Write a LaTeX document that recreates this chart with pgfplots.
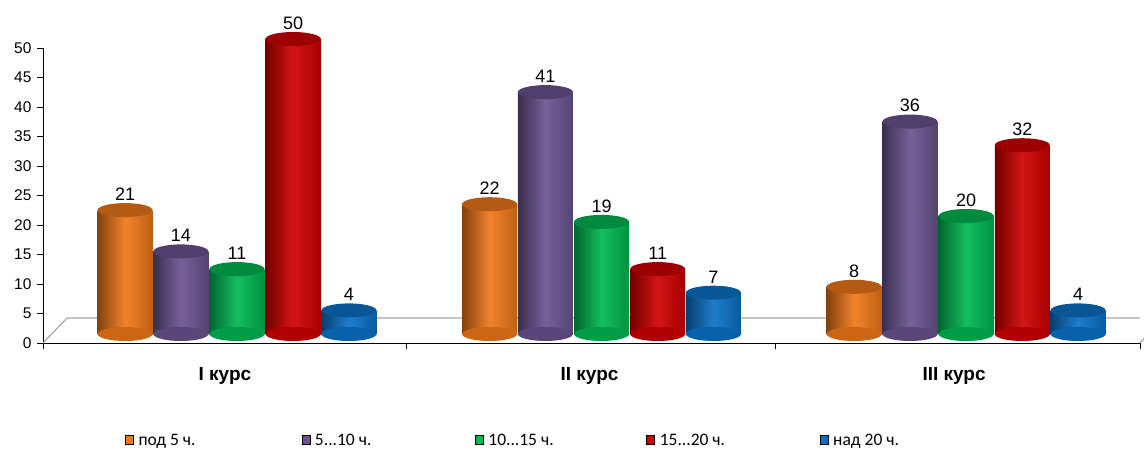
\documentclass[border=0pt]{standalone}
\usepackage{fontspec}
\setmainfont{Liberation Sans}
\newfontfamily\legfont{Carlito}
\usepackage{pgfplots}
\pgfplotsset{compat=1.18}
\definecolor{cO}{HTML}{F07818}
\definecolor{cP}{HTML}{6A5490}
\definecolor{cG}{HTML}{00B852}
\definecolor{cR}{HTML}{D00000}
\definecolor{cB}{HTML}{0A72C8}
\pgfdeclareplotmark{cyl}{\pgfpathellipse{\pgfpointorigin}{\pgfqpoint{27.5pt}{0pt}}{\pgfqpoint{0pt}{7pt}}\pgfusepathqfill}
\pgfplotsset{
  cylbar/.style={ybar, bar width=55pt, bar shift=0pt, draw=none, yshift=9pt,
    left color=#1!55!black, right color=#1!80!black, middle color=#1!92!white,
    forget plot},
  cyltop/.style={only marks, mark=cyl, yshift=9pt, mark options={fill=#1!75!black, draw=none}, forget plot,
    nodes near coords, every node near coord/.append style={anchor=south, yshift=6pt, font=\fontsize{18}{21}\selectfont, text=black}},
  cylbot/.style={only marks, mark=cyl, yshift=9pt, mark options={fill=#1!85!black, draw=none}, forget plot},
}
\newcommand\cyl[3]{%
  \addplot[cylbot=#1] coordinates {(#2,0)};
  \addplot[cylbar=#1] coordinates {(#2,#3)};
  \addplot[cyltop=#1] coordinates {(#2,#3)};
}
\begin{document}
\begin{tikzpicture}
\path[use as bounding box] (0,0) rectangle (1144pt,453pt);
\begin{axis}[
  at={(43pt,110pt)}, anchor=south west,
  scale only axis, width=1097pt, height=295pt,
  xmin=-0.532, xmax=2.477, ymin=0, ymax=50,
  axis x line*=bottom, axis y line*=left,
  axis line style={black, line width=0.8pt},
  ytick={0,5,...,50},
  xtick={-0.532,0.466,1.476,2.477}, xticklabels={},
  extra x ticks={-0.033,0.967,1.967},
  extra x tick labels={\textbf{I курс},\textbf{II курс},\textbf{III курс}},
  extra x tick style={major tick length=0pt, tick label style={yshift=-21pt, font=\fontsize{19}{22}\selectfont}},
  tick align=outside, major tick length=6pt,
  tick style={black, line width=0.8pt},
  yticklabel style={font=\fontsize{15.5}{18}\selectfont, xshift=-2pt},
  /pgf/number format/assume math mode=true,
  clip=false,
  legend columns=5,
  legend style={at={(0.072,-0.33)}, anchor=west, draw=none, fill=none,
    font=\legfont\fontsize{17.5}{20}\selectfont,
    /tikz/every odd column/.append style={column sep=3pt},
    /tikz/every even column/.append style={column sep=0pt}},
  legend cell align=left,
  legend image code/.code={\fill[#1] (0pt,-4pt) rectangle (8pt,5pt);},
]
\draw[gray!70, line width=1.2pt] (axis cs:-0.532,0) -- (axis cs:-0.466,4.24) -- (axis cs:2.477,4.24);
\draw[gray!70, line width=1.2pt] (axis cs:2.477,0) -- (axis cs:2.49,0.9);
% orange: под 5 ч.
\cyl{cO}{-0.307}{21}\cyl{cO}{0.693}{22}\cyl{cO}{1.693}{8}
% purple: 5...10 ч.
\cyl{cP}{-0.154}{14}\cyl{cP}{0.846}{41}\cyl{cP}{1.846}{36}
% green: 10...15 ч.
\cyl{cG}{0}{11}\cyl{cG}{1}{19}\cyl{cG}{2}{20}
% red: 15...20 ч.
\cyl{cR}{0.154}{50}\cyl{cR}{1.154}{11}\cyl{cR}{2.154}{32}
% blue: над 20 ч.
\cyl{cB}{0.307}{4}\cyl{cB}{1.307}{7}\cyl{cB}{2.307}{4}
\addlegendimage{fill=cO}\addlegendentry{\makebox[161pt][l]{под 5 ч.}}
\addlegendimage{fill=cP}\addlegendentry{\makebox[158pt][l]{5...10 ч.}}
\addlegendimage{fill=cG}\addlegendentry{\makebox[156pt][l]{10...15 ч.}}
\addlegendimage{fill=cR}\addlegendentry{\makebox[158pt][l]{15...20 ч.}}
\addlegendimage{fill=cB}\addlegendentry{\makebox[70pt][l]{над 20 ч.}}
\end{axis}
\end{tikzpicture}
\end{document}
